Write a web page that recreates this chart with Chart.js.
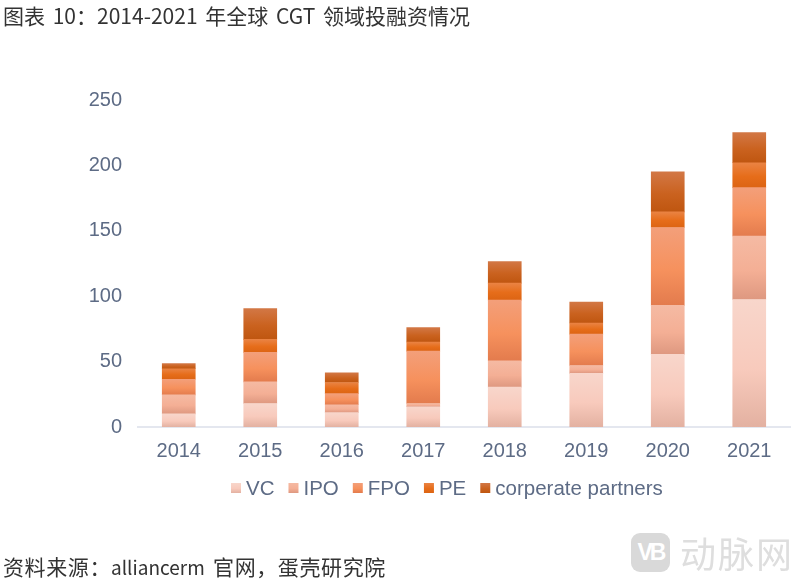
<!DOCTYPE html>
<html>
<head>
<meta charset="utf-8">
<script src="https://cdn.jsdelivr.net/npm/chart.js@4"></script>
<style>
  html, body { margin: 0; padding: 0; background: #fff; }
  #wrap { position: relative; width: 800px; height: 583px; overflow: hidden; font-family: "Noto Sans CJK SC", sans-serif; }
  #chart { position: absolute; left: 0; top: 0; }
  .note { position: absolute; left: 3px; font-size: 21px; line-height: 30px; color: #333; white-space: pre; word-spacing: 3px; }
  .note span { font-size: 19px; letter-spacing: 0; }
  #title { top: 0; }
  #source { top: 551px; letter-spacing: 0.6px; }
  #mark { position: absolute; left: 631px; top: 533px; width: 39px; height: 39px; border-radius: 9px; background: #d9d9d9; color: #fff; font: bold 23px/39px "Liberation Sans", sans-serif; text-align: center; letter-spacing: -3px; }
  #markText { position: absolute; left: 680px; top: 529px; font-size: 36px; line-height: 46px; color: #dedede; white-space: pre; letter-spacing: 2px; }
</style>
</head>
<body>
<div id="wrap">
  <canvas id="chart" width="800" height="583"></canvas>
  <div id="title" class="note">图表 10：2014-2021 年全球 CGT 领域投融资情况</div>
  <div id="source" class="note">资料来源：<span>alliancerm</span> 官网，蛋壳研究院</div>
  <div id="mark">VB</div>
  <div id="markText">动脉网</div>
</div>
<script>
// data
const years = ['2014', '2015', '2016', '2017', '2018', '2019', '2020', '2021'];
const vc = [10, 18, 11, 15.5, 30.5, 41, 55.5, 97.5];
const ipo = [14.5, 16.5, 6, 2.5, 20, 6, 37.5, 48.5];
const fpo = [12, 22.5, 8.5, 40, 46.5, 24, 59.5, 37];
const pe = [8, 10, 8.5, 7, 13, 8.5, 12, 19];
const partners = [4, 23.5, 7.5, 11, 16.5, 16, 30.5, 23];
const yTicks = [0, 50, 100, 150, 200, 250];

// top, middle and bottom colour of each series
const vcColors = ['#f8d6cb', '#f8cabc', '#e3b1a1'];
const ipoColors = ['#f5baa3', '#f4af95', '#de9880'];
const fpoColors = ['#f39f7a', '#f6915d', '#e37b4d'];
const peColors = ['#ea8343', '#e66d1a', '#dc6413'];
const partnerColors = ['#d27745', '#ca621f', '#bf5610'];

const allValues = [vc, ipo, fpo, pe, partners];
const allColors = [vcColors, ipoColors, fpoColors, peColors, partnerColors];

function verticalGradient(ctx, colors, y0, y1) {
    const g = ctx.createLinearGradient(0, y0, 0, y1);
    g.addColorStop(0, colors[0]);
    g.addColorStop(0.55, colors[1]);
    g.addColorStop(1, colors[2]);
    return g;
}

// every segment gets its own vertical gradient, like the original
function segmentFill(colors, seriesIndex) {
    return function (context) {
        const chart = context.chart;
        const y = chart.scales.y;
        if (context.dataIndex === undefined || !y) {
            return colors[1];
        }
        let base = 0;
        for (let i = 0; i < seriesIndex; i++) {
            base += allValues[i][context.dataIndex];
        }
        const top = base + allValues[seriesIndex][context.dataIndex];
        const y0 = y.getPixelForValue(top);
        const y1 = y.getPixelForValue(base);
        // scale has no size yet on the first pass
        if (!isFinite(y0) || !isFinite(y1)) {
            return colors[1];
        }
        return verticalGradient(chart.ctx, colors, y0, y1);
    };
}

function makeSet(label, values, colors, seriesIndex) {
    return {
        label: label,
        data: values,
        backgroundColor: segmentFill(colors, seriesIndex),
        hoverBackgroundColor: colors[1],
        borderWidth: 0,
        barThickness: 33
    };
}

const labelColor = '#5d6b85';
const labelFont = { family: '"Liberation Sans", sans-serif', size: 20 };

// built-in legend forces a wide gap between box and text, so draw it here
const tightLegend = {
    id: 'tightLegend',
    afterDraw(chart) {
        const ctx = chart.ctx;
        let x = 231;
        ctx.save();
        ctx.font = '20.5px "Liberation Sans", sans-serif';
        ctx.textBaseline = 'middle';
        chart.data.datasets.forEach((set, i) => {
            ctx.fillStyle = verticalGradient(ctx, allColors[i], 483, 493);
            ctx.fillRect(x, 483, 10, 10);
            ctx.fillStyle = labelColor;
            ctx.fillText(set.label, x + 15, 489);
            x += 15 + ctx.measureText(set.label).width + 14;
        });
        ctx.restore();
    }
};

new Chart(document.getElementById('chart'), {
    type: 'bar',
    data: {
        labels: years,
        datasets: [
            makeSet('VC', vc, vcColors, 0),
            makeSet('IPO', ipo, ipoColors, 1),
            makeSet('FPO', fpo, fpoColors, 2),
            makeSet('PE', pe, peColors, 3),
            makeSet('corperate partners', partners, partnerColors, 4)
        ]
    },
    plugins: [tightLegend],
    options: {
        responsive: false,
        animation: false,
        layout: { padding: { left: 0, right: 10, top: 100, bottom: 108 } },
        plugins: {
            legend: { display: false },
            tooltip: { enabled: false }
        },
        scales: {
            x: {
                stacked: true,
                grid: { display: false, drawTicks: false },
                border: { color: '#e4e7ef', width: 2 },
                ticks: { color: labelColor, font: labelFont, padding: 12 }
            },
            y: {
                stacked: true,
                min: 0,
                max: 250,
                grid: { display: false, drawTicks: false },
                border: { display: false },
                afterFit: function (scale) { scale.width = 138; },
                afterBuildTicks: function (scale) { scale.ticks = yTicks.map(v => ({ value: v })); },
                ticks: { color: labelColor, font: labelFont, padding: 16 }
            }
        }
    }
});
</script>
</body>
</html>
